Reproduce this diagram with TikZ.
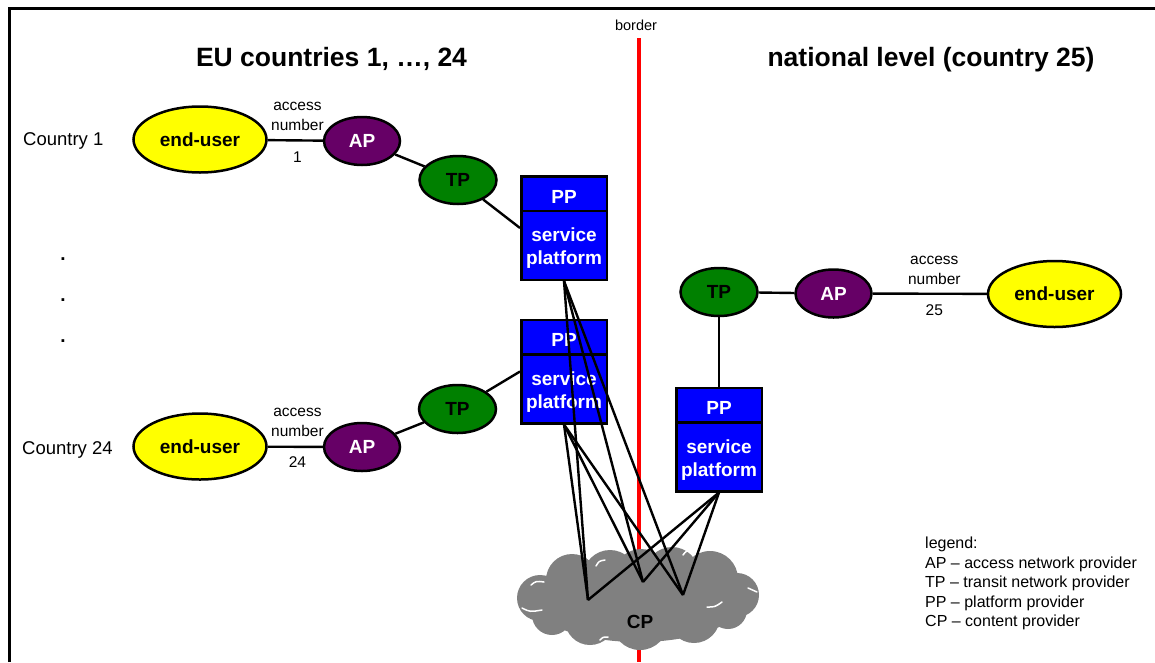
\documentclass[tikz,border=0pt]{standalone}
\usepackage{fontspec}
\setmainfont{Liberation Sans}
\usetikzlibrary{shapes.geometric}
\definecolor{euyellow}{RGB}{255,255,0}
\definecolor{appurple}{RGB}{102,0,102}
\definecolor{tpgreen}{RGB}{0,128,0}
\definecolor{ppblue}{RGB}{0,0,255}
\definecolor{cpgray}{RGB}{128,128,128}
\begin{document}
\begin{tikzpicture}[x=1pt,y=-1pt,
  oval/.style={ellipse, draw=black, line width=2.5pt, inner sep=0pt, font=\fontsize{19}{23}\selectfont\bfseries},
  enduser/.style={oval, fill=euyellow, minimum width=133pt, minimum height=66pt},
  apnode/.style={oval, fill=appurple, text=white, minimum width=76pt, minimum height=48pt},
  tpnode/.style={oval, fill=tpgreen, minimum width=77pt, minimum height=48pt},
  ppbox/.style={rectangle, draw=black, line width=2.5pt, fill=ppblue, minimum width=85.5pt, minimum height=103.5pt, inner sep=0pt},
  pptext/.style={text=white, font=\fontsize{19}{23}\selectfont\bfseries, align=center, inner sep=0pt},
  link/.style={line width=2.4pt, draw=black},
  cut/.style={white, line width=1.5pt, line cap=round},
  title/.style={font=\fontsize{26.5}{32}\selectfont\bfseries, inner sep=0pt},
  country/.style={font=\fontsize{18.5}{22}\selectfont, inner sep=0pt},
  acc/.style={font=\fontsize{15.5}{19.5}\selectfont, inner sep=0pt, align=center},
  dotmark/.style={font=\fontsize{19}{23}\selectfont\bfseries, inner sep=0pt},
]
\useasboundingbox (0,0) rectangle (1155,662);
% frame (left and top edges)
\coordinate (fbl) at (9,662);
\coordinate (ftl) at (9,8);
\coordinate (ftr) at (1155,8);
\draw[line width=3pt] (fbl) -- (ftl) -- (ftr);

% border line
\coordinate (rtop) at (639,38);
\coordinate (rbot) at (639,662);
\draw[red, line width=4pt] (rtop) -- (rbot);
\node[font=\fontsize{14.5}{17}\selectfont, inner sep=0pt, anchor=base] (borderlab) at (636,30) {border};

% titles
\node[title, anchor=base] (t1) at (331.5,66) {EU countries 1, …, 24};
\node[title, anchor=base] (t2) at (931,66) {national level (country 25)};

% country labels and dots
\node[country, anchor=base west] (cl1) at (23,145) {Country 1};
\node[country, anchor=base west] (cl24) at (22,454) {Country 24};
\node[dotmark] (d1) at (63,259) {.};
\node[dotmark] (d2) at (63,300) {.};
\node[dotmark] (d3) at (63,341) {.};

% country 1 chain
\node[enduser] (eu1) at (200,139.5) {end-user};
\node[apnode] (ap1) at (362,141) {AP};
\node[tpnode] (tp1) at (458,180) {TP};
% country 24 chain
\node[enduser] (eu24) at (200,446.5) {end-user};
\node[apnode] (ap24) at (362,447) {AP};
\node[tpnode] (tp24) at (457.5,409) {TP};
% national chain
\node[tpnode] (tpn) at (719,292) {TP};
\node[apnode] (apn) at (833.5,293.5) {AP};
\node[enduser] (eun) at (1054.5,294) {end-user};

% platform boxes
\node[ppbox] (pp1) at (564,228) {};
\node[ppbox] (pp2) at (564,371.5) {};
\node[ppbox] (ppn) at (719,439.5) {};
\foreach \b in {pp1,pp2,ppn}{
  \draw[line width=2.5pt] ([yshift=-36pt]\b.north west) -- ([yshift=-36pt]\b.north east);
  \node[pptext, anchor=base] (\b-top) at ([yshift=-28pt]\b.north) {PP};
  \node[pptext, anchor=north] (\b-bot) at ([yshift=-53pt]\b.north) {service\\platform};
}

% cloud (content provider)
\coordinate (cp) at (638,599);
\fill[cpgray]
  (638,600) ellipse[x radius=106pt, y radius=42pt]
  (572,580) circle[radius=26pt]
  (610,577) circle[radius=27pt]
  (641,576) circle[radius=27pt]
  (672,574) circle[radius=27pt]
  (710,579) circle[radius=28pt]
  (540,598) circle[radius=23pt]
  (737,595) circle[radius=22pt]
  (552,615) circle[radius=20pt]
  (590,620) circle[radius=25pt]
  (640,622) circle[radius=28pt]
  (694,617) circle[radius=26pt]
  (728,610) circle[radius=19pt];
\draw[cut] (531,585) .. controls (536,581) .. (544,582);
\draw[cut] (596,566) .. controls (599,561) .. (605,560);
\draw[cut] (522,608) .. controls (530,612) .. (542,610);
\draw[cut] (707,607) .. controls (715,607) .. (722,602);
\draw[cut] (748,588) .. controls (753,590) .. (757,592);
\draw[cut] (683,555) .. controls (686,551) .. (691,551);
\draw[cut] (600,640) .. controls (603,637) .. (608,637);
\node[font=\fontsize{19}{23}\selectfont\bfseries, inner sep=0pt] (cplab) at (640,622) {CP};
\coordinate (k1) at (588,600);
\coordinate (k2) at (643,582);
\coordinate (k3) at (683,595);

% connectors
\draw[link] (eu1) -- node[acc, pos=.54, anchor=south, yshift=9pt] (acc1) {access\\number} node[acc, pos=.54, anchor=north, yshift=-10pt] (num1) {1} (ap1);
\draw[link] (ap1) -- (tp1);
\draw[link] (tp1) -- (pp1.west);
\draw[link] (eu24) -- node[acc, pos=.54, anchor=south, yshift=9pt] (acc24) {access\\number} node[acc, pos=.54, anchor=north, yshift=-9pt] (num24) {24} (ap24);
\draw[link] (ap24) -- (tp24);
\draw[link] (tp24) -- (pp2.west);
\draw[link] (apn) -- node[acc, pos=.54, anchor=south, yshift=8pt] (accn) {access\\number} node[acc, pos=.54, anchor=north, yshift=-10pt] (numn) {25} (eun);
\draw[link] (tpn) -- (apn);
\draw[link] (tpn) -- (ppn);
\foreach \b in {pp1,pp2,ppn}{
  \foreach \k in {k1,k2,k3}{
    \draw[link] (\b.south) -- (\k);
  }
}

% legend
\node[font=\fontsize{16}{19.5}\selectfont, align=left, inner sep=0pt, anchor=north west] (legend) at (925,537) {legend:\\AP – access network provider\\TP – transit network provider\\PP – platform provider\\CP – content provider};
\end{tikzpicture}
\end{document}
